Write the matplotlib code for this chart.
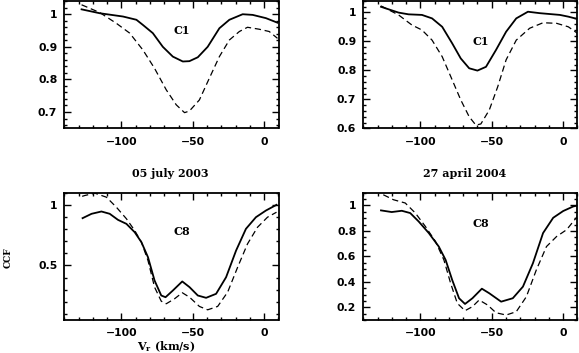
import matplotlib
matplotlib.use("Agg")
import matplotlib.pyplot as plt
from matplotlib.ticker import MultipleLocator

plt.rcParams['mathtext.fontset'] = 'dejavuserif'

# ---------------- data ----------------
# Top-left: C1, 05 july 2003
c1_2003_v_solid = [-127.9, -115.1, -98.9, -89.5, -84.9, -78.0, -71.0, -64.0, -57.0, -52.4, -46.5, -39.6, -31.4, -24.4, -15.1, -8.1, 1.2, 9.3]
c1_2003_y_solid = [1.015, 1.003, 0.993, 0.983, 0.967, 0.942, 0.900, 0.870, 0.855, 0.856, 0.868, 0.900, 0.957, 0.983, 1.000, 0.998, 0.988, 0.974]
c1_2003_v_dash = [-127.9, -115.1, -103.5, -94.2, -84.9, -76.8, -68.6, -61.6, -55.8, -52.4, -45.4, -38.4, -31.4, -24.4, -17.4, -11.7, -3.5, 3.5, 9.3]
c1_2003_y_dash = [1.029, 1.005, 0.972, 0.942, 0.890, 0.834, 0.768, 0.722, 0.698, 0.703, 0.737, 0.804, 0.870, 0.921, 0.947, 0.960, 0.954, 0.947, 0.926]

# Top-right: C1, 27 april 2004
c1_2004_v_solid = [-127.6, -115.3, -108.3, -98.9, -91.8, -84.7, -77.7, -71.7, -65.8, -60.0, -54.0, -47.0, -39.9, -32.8, -24.6, -16.3, -9.3, -2.2, 3.7, 10.0]
c1_2004_y_solid = [1.019, 0.999, 0.993, 0.991, 0.979, 0.950, 0.893, 0.841, 0.807, 0.799, 0.812, 0.870, 0.933, 0.979, 1.002, 0.997, 0.994, 0.991, 0.985, 0.977]
c1_2004_v_dash = [-127.6, -115.3, -105.9, -98.9, -91.8, -84.7, -77.7, -71.7, -65.8, -61.1, -57.6, -51.7, -45.8, -39.9, -32.8, -23.4, -14.0, -4.5, 3.7, 10.0]
c1_2004_y_dash = [1.022, 0.991, 0.956, 0.939, 0.904, 0.847, 0.767, 0.698, 0.640, 0.611, 0.615, 0.663, 0.743, 0.836, 0.904, 0.945, 0.964, 0.962, 0.950, 0.928]

# Bottom-left: C8, 05 july 2003
c8_2003_v_solid = [-127.2, -120.9, -114.0, -108.2, -102.4, -96.5, -90.7, -86.0, -81.4, -76.8, -72.1, -69.1, -64.0, -57.4, -52.3, -46.5, -40.7, -33.7, -26.7, -19.7, -12.8, -5.8, 1.2, 8.6]
c8_2003_y_solid = [0.890, 0.926, 0.945, 0.926, 0.876, 0.843, 0.774, 0.692, 0.568, 0.376, 0.252, 0.238, 0.293, 0.368, 0.321, 0.252, 0.233, 0.266, 0.403, 0.623, 0.802, 0.898, 0.953, 1.000]
c8_2003_v_dash = [-127.5, -125.6, -118.6, -110.5, -103.5, -96.5, -90.7, -86.0, -81.4, -76.8, -72.1, -68.6, -62.8, -57.4, -52.3, -45.4, -39.6, -32.6, -25.6, -18.6, -11.7, -4.7, 2.3, 8.6]
c8_2003_y_dash = [1.070, 1.077, 1.096, 1.063, 0.980, 0.885, 0.788, 0.692, 0.541, 0.321, 0.205, 0.184, 0.225, 0.275, 0.238, 0.162, 0.134, 0.162, 0.280, 0.486, 0.678, 0.815, 0.898, 0.939]

# Bottom-right: C8, 27 april 2004
c8_2004_v_solid = [-127.6, -120.1, -113.0, -107.1, -101.2, -94.1, -87.1, -82.3, -77.7, -72.9, -68.7, -63.5, -56.9, -51.7, -43.4, -35.2, -28.1, -21.1, -14.0, -6.9, 0.1, 7.2, 10.0]
c8_2004_y_solid = [0.961, 0.948, 0.958, 0.940, 0.874, 0.783, 0.677, 0.572, 0.415, 0.271, 0.226, 0.271, 0.346, 0.310, 0.244, 0.271, 0.362, 0.546, 0.783, 0.903, 0.956, 0.992, 0.999]
c8_2004_v_dash = [-126.0, -118.9, -110.6, -103.5, -96.5, -89.4, -83.5, -78.8, -74.1, -68.7, -63.5, -58.8, -52.9, -47.0, -39.9, -32.8, -25.7, -18.7, -11.6, -4.5, 2.5, 10.0]
c8_2004_y_dash = [1.084, 1.045, 1.019, 0.940, 0.835, 0.717, 0.572, 0.389, 0.231, 0.173, 0.205, 0.257, 0.218, 0.157, 0.139, 0.165, 0.283, 0.494, 0.677, 0.756, 0.809, 0.913]

panel_labels = ["C1", "C1", "C8", "C8"]
date_labels = ["05 july 2003", "27 april 2004"]
ylims = [(0.65, 1.04), (0.6, 1.04), (0.05, 1.1), (0.1, 1.1)]
y_major = [0.1, 0.1, 0.5, 0.2]
y_minor = [0.02, 0.02, 0.1, 0.05]
label_pos = [(-58, 0.95), (-57.6, 0.90), (-57.5, 0.78), (-57.6, 0.856)]

panels = [
    (c1_2003_v_solid, c1_2003_y_solid, c1_2003_v_dash, c1_2003_y_dash),
    (c1_2004_v_solid, c1_2004_y_solid, c1_2004_v_dash, c1_2004_y_dash),
    (c8_2003_v_solid, c8_2003_y_solid, c8_2003_v_dash, c8_2003_y_dash),
    (c8_2004_v_solid, c8_2004_y_solid, c8_2004_v_dash, c8_2004_y_dash),
]

W, H = 579, 353
fig = plt.figure(figsize=(W / 100, H / 100), dpi=100)

def ax_rect(l, r, t, b):
    return [l / W, 1 - b / H, (r - l) / W, (b - t) / H]

rects = [
    ax_rect(64.3, 278.5, 1.2, 128.3),
    ax_rect(363.3, 577.3, 0.7, 128.3),
    ax_rect(64.3, 278.5, 192.7, 320.0),
    ax_rect(363.3, 577.3, 192.7, 320.0),
]

serif_font = dict(family='DejaVu Serif', weight='bold')

def fmt(val, pos):
    return ('%g' % val).replace('-', '\u2212')

for i, (rect, (vs, ys, vd, yd)) in enumerate(zip(rects, panels)):
    ax = fig.add_axes(rect)
    ax.plot(vs, ys, color='black', lw=1.3, solid_joinstyle='round')
    ax.plot(vd, yd, color='black', lw=0.9, dashes=(5, 3))
    ax.set_xlim(-140, 10)
    ax.set_ylim(*ylims[i])
    ax.xaxis.set_major_locator(MultipleLocator(50))
    ax.xaxis.set_minor_locator(MultipleLocator(10))
    ax.yaxis.set_major_locator(MultipleLocator(y_major[i]))
    ax.yaxis.set_minor_locator(MultipleLocator(y_minor[i]))
    ax.tick_params(which='both', direction='in', top=True, right=True, width=1.0)
    ax.tick_params(which='major', length=5)
    ax.tick_params(axis='x', which='major', pad=6)
    ax.tick_params(axis='y', which='major', pad=5)
    ax.tick_params(which='minor', length=2.5)
    for sp in ax.spines.values():
        sp.set_linewidth(1.3)
    ax.xaxis.set_major_formatter(plt.FuncFormatter(fmt))
    ax.yaxis.set_major_formatter(plt.FuncFormatter(fmt))
    for lab in ax.get_xticklabels() + ax.get_yticklabels():
        lab.set_fontfamily('DejaVu Sans')
        lab.set_fontweight('bold')
        lab.set_fontsize(7.8)
    ax.text(label_pos[i][0], label_pos[i][1], panel_labels[i], ha='center', va='center',
            fontsize=8, **serif_font)

fig.text(170 / W, 1 - 173.3 / H, date_labels[0], ha='center', va='center', fontsize=8, **serif_font)
fig.text(465 / W, 1 - 173.3 / H, date_labels[1], ha='center', va='center', fontsize=8, **serif_font)
fig.text(8 / W, 1 - 258 / H, "CCF", rotation=90, ha='center', va='center', fontsize=6.5, **serif_font)
fig.text(166 / W, 1 - 346.5 / H, r'$\mathbf{V_r}$ (km/s)', ha='center', va='center', fontsize=8, **serif_font)

fig.savefig("out.png", dpi=100)
